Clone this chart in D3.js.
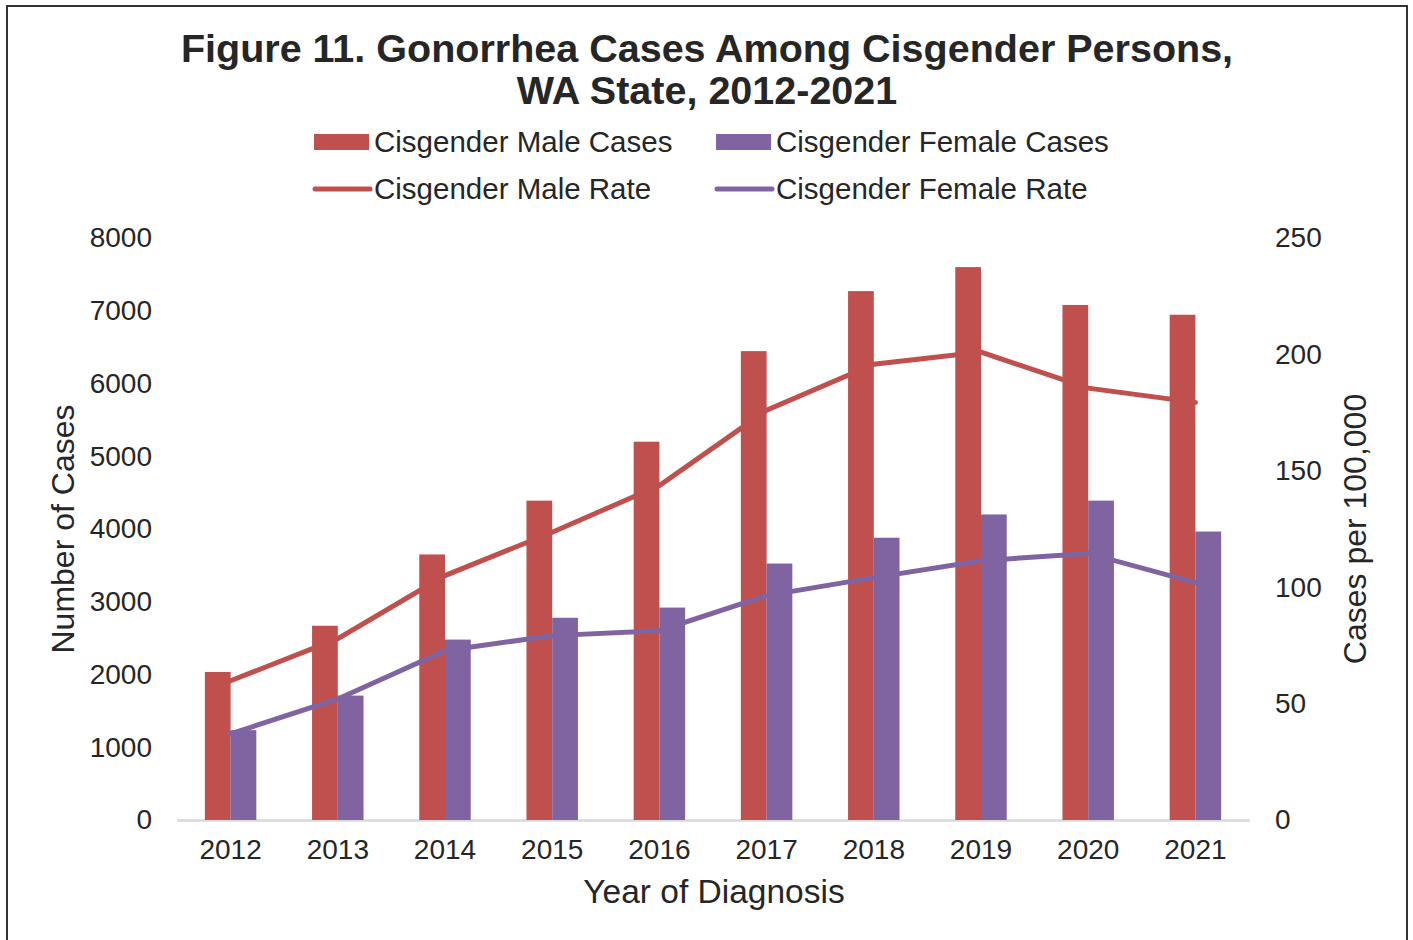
<!DOCTYPE html>
<html>
<head>
<meta charset="utf-8">
<script src="https://cdn.jsdelivr.net/npm/d3@7"></script>
<style>
  body { margin: 0; background: #fff; }
  text { font-family: "Liberation Sans", Arial, sans-serif; fill: #262626; }
</style>
</head>
<body>
<div id="container"></div>
<script>
///data
let years = ["2012", "2013", "2014", "2015", "2016", "2017", "2018", "2019", "2020", "2021"];
let maleCases = [2035, 2670, 3650, 4390, 5200, 6445, 7270, 7600, 7080, 6945];
let femaleCases = [1235, 1710, 2480, 2780, 2920, 3525, 3880, 4200, 4390, 3965];
let maleRate = [59.8, 77.9, 105, 123.6, 143.7, 176, 195.8, 201, 185.5, 179.4];
let femaleRate = [37, 52, 72.7, 79.2, 81.3, 96.4, 104.1, 111.4, 114.5, 102];
let leftTicks = [0, 1000, 2000, 3000, 4000, 5000, 6000, 7000, 8000];
let rightTicks = [0, 50, 100, 150, 200, 250];

///size
let w = 1413, h = 940;
let plotL = 177, plotR = 1249, plotT = 238, plotB = 820;
const red = "#C0504D", purple = "#8064A2";

let svg = d3.select("#container").append("svg")
  .attr("width", w)
  .attr("height", h);

///frame
svg.append("rect")
  .attr("x", 7).attr("y", 6)
  .attr("width", 1400).attr("height", 960)
  .attr("fill", "none")
  .attr("stroke", "#333")
  .attr("stroke-width", 2);

///title
svg.append("text")
  .attr("x", 707).attr("y", 62)
  .attr("text-anchor", "middle")
  .style("font-size", "39.5px").style("font-weight", "bold")
  .text("Figure 11. Gonorrhea Cases Among Cisgender Persons,");
svg.append("text")
  .attr("x", 707).attr("y", 104)
  .attr("text-anchor", "middle")
  .style("font-size", "39.5px").style("font-weight", "bold")
  .text("WA State, 2012-2021");

///scales
let x = d3.scaleBand().domain(years).range([plotL, plotR]).paddingInner(0.52).paddingOuter(0.26);
let xSub = d3.scaleBand().domain(["m", "f"]).range([0, x.bandwidth()]);
let yL = d3.scaleLinear().domain([0, 8000]).range([plotB, plotT]);
let yR = d3.scaleLinear().domain([0, 250]).range([plotB, plotT]);

///axes
let xAxis = d3.axisBottom(x).tickSize(0).tickPadding(33);
let gx = svg.append("g").attr("transform", "translate(0," + plotB + ")").call(xAxis);
gx.select(".domain").remove();
gx.selectAll("text").style("font-size", "28px").attr("dy", "0.2em").attr("fill", "#262626");
svg.append("line")
  .attr("x1", plotL).attr("x2", plotR + 1)
  .attr("y1", plotB + 0.5).attr("y2", plotB + 0.5)
  .attr("stroke", "#d9d9d9").attr("stroke-width", 2.5);

let gyL = svg.append("g").attr("transform", "translate(152,0)")
  .call(d3.axisLeft(yL).tickValues(leftTicks).tickFormat(d3.format("d")).tickSize(0).tickPadding(0));
gyL.select(".domain").remove();
gyL.selectAll("text").style("font-size", "28px").attr("fill", "#262626");

let gyR = svg.append("g").attr("transform", "translate(1275,0)")
  .call(d3.axisRight(yR).tickValues(rightTicks).tickSize(0).tickPadding(0));
gyR.select(".domain").remove();
gyR.selectAll("text").style("font-size", "28px").attr("fill", "#262626");

///axis titles
svg.append("text")
  .attr("transform", "translate(74,529) rotate(-90)")
  .attr("text-anchor", "middle")
  .style("font-size", "32px")
  .text("Number of Cases");
svg.append("text")
  .attr("transform", "translate(1366,529) rotate(-90)")
  .attr("text-anchor", "middle")
  .style("font-size", "32px")
  .text("Cases per 100,000");
svg.append("text")
  .attr("x", 714).attr("y", 903)
  .attr("text-anchor", "middle")
  .style("font-size", "33.5px")
  .text("Year of Diagnosis");

///bars
svg.selectAll(".male").data(maleCases).enter().append("rect")
  .attr("class", "male")
  .attr("x", (d, i) => x(years[i]) + xSub("m"))
  .attr("y", d => yL(d))
  .attr("width", xSub.bandwidth())
  .attr("height", d => plotB - yL(d))
  .attr("fill", red);
svg.selectAll(".female").data(femaleCases).enter().append("rect")
  .attr("class", "female")
  .attr("x", (d, i) => x(years[i]) + xSub("f"))
  .attr("y", d => yL(d))
  .attr("width", xSub.bandwidth())
  .attr("height", d => plotB - yL(d))
  .attr("fill", purple);

///lines
let line = d3.line()
  .x((d, i) => x(years[i]) + x.bandwidth() / 2)
  .y(d => yR(d));
svg.append("path").datum(maleRate)
  .attr("d", line).attr("fill", "none")
  .attr("stroke", red).attr("stroke-width", 5).attr("stroke-linecap", "round");
svg.append("path").datum(femaleRate)
  .attr("d", line).attr("fill", "none")
  .attr("stroke", purple).attr("stroke-width", 5).attr("stroke-linecap", "round");

///legend
let legendItems = [
  {name: "Cisgender Male Cases", color: red, type: "bar", x: 314, y: 142},
  {name: "Cisgender Female Cases", color: purple, type: "bar", x: 716, y: 142},
  {name: "Cisgender Male Rate", color: red, type: "line", x: 314, y: 189},
  {name: "Cisgender Female Rate", color: purple, type: "line", x: 716, y: 189}
];
let lg = svg.selectAll(".lg").data(legendItems).enter().append("g")
  .attr("transform", d => "translate(" + d.x + "," + d.y + ")");
lg.filter(d => d.type == "bar").append("rect")
  .attr("x", 0).attr("y", -8).attr("width", 55).attr("height", 16)
  .attr("fill", d => d.color);
lg.filter(d => d.type == "line").append("line")
  .attr("x1", 1).attr("x2", 56).attr("y1", 0).attr("y2", 0)
  .attr("stroke", d => d.color).attr("stroke-width", 5).attr("stroke-linecap", "round");
lg.append("text")
  .attr("x", 60).attr("y", 10)
  .style("font-size", "29.5px")
  .text(d => d.name);
</script>
</body>
</html>
